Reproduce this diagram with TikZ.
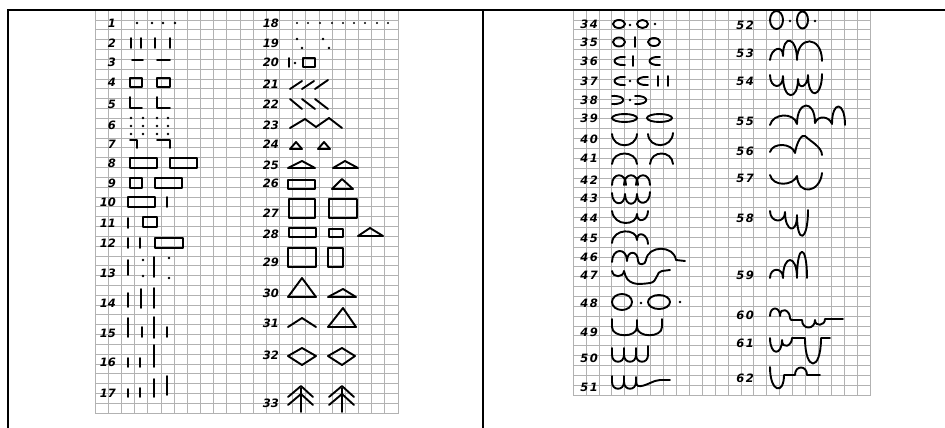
\documentclass[tikz,border=0pt]{standalone}
\usepackage{fontspec}
\newfontfamily\labf{DejaVu Sans}
\begin{document}
\begin{tikzpicture}[x=1pt,y=-1pt,
  grd/.style={gray!60, line width=0.5pt},
  gl/.style={line width=1.9pt, line cap=round, line join=round},
  lab/.style={font=\labf\bfseries\itshape\fontsize{11.5}{11.5}\selectfont, anchor=east, inner sep=0pt},
  frm/.style={line width=2pt}]
\useasboundingbox (0,0) rectangle (945,428);
% grids
\foreach \i in {0,...,23} \draw[grd] ({95+13.17*\i},10) -- ({95+13.17*\i},414);
\foreach \j in {0,...,41} \draw[grd] (95,{10+9.83*\j}) -- (398,{10+9.83*\j});
\foreach \i in {0,...,23} \draw[grd] ({573+12.91*\i},10) -- ({573+12.91*\i},396);
\foreach \j in {0,...,39} \draw[grd] (573,{10+9.87*\j}) -- (870,{10+9.87*\j});
% frame
\coordinate (tl) at (8,10); \coordinate (tr) at (945,10);
\coordinate (bl) at (8,428); \coordinate (tm) at (483,10); \coordinate (bm) at (483,428);
\draw[frm] (bl) -- (tl) -- (tr);
\draw[frm] (tm) -- (bm);
% labels column 1
\foreach \n/\y in {1/23,2/43,3/62,4/82,5/104,6/125,7/144,8/163,9/183,10/202,11/223,12/243,13/273,14/303,15/333,16/362,17/393}
  \node[lab] (n\n) at (116,\y) {\n};
% labels column 2
\foreach \n/\y in {18/23,19/43,20/62,21/84,22/104,23/125,24/144,25/165,26/183,27/213,28/234,29/262,30/293,31/323,32/355,33/403}
  \node[lab] (n\n) at (279,\y) {\n};
% labels column 3
\foreach \a/\b/\y in {3/4/24,3/5/42,3/6/61,3/7/81,3/8/100,3/9/118,4/0/139,4/1/158,4/2/180,4/3/198,4/4/218,4/5/238,4/6/257,4/7/275,4/8/303,4/9/332,5/0/358,5/1/387}
  \node[lab] (n\a\b) at (598,\y) {\a\kern1.5pt\b};
% labels column 4
\foreach \a/\b/\y in {5/2/25,5/3/53,5/4/81,5/5/121,5/6/151,5/7/178,5/8/218,5/9/275,6/0/315,6/1/343,6/2/378}
  \node[lab] (n\a\b) at (754,\y) {\a\kern1.5pt\b};
% ---- column 1 glyphs
\foreach \x in {137,152,163,175} \fill (\x,23) circle (1.3);
\foreach \x in {131,141,155,170} \draw[gl] (\x,38) -- (\x,48);
\draw[gl] (132,60) -- (143,60); \draw[gl] (157,60) -- (170,60);
\draw[gl] (130,78) rectangle (142,87); \draw[gl] (157,78) rectangle (170,87);
\draw[gl] (130,97) -- (130,108) -- (142,108); \draw[gl] (157,97) -- (157,108) -- (170,108);
\foreach \x in {131,143,157,168} \foreach \y in {118,126,134} \fill (\x,\y) circle (1.3);
\draw[gl] (130,140) -- (137,140) -- (137,148); \draw[gl] (157,140) -- (170,140) -- (170,148);
\draw[gl] (130,158) rectangle (157,168); \draw[gl] (170,158) rectangle (197,168);
\draw[gl] (130,178) rectangle (142,188); \draw[gl] (155,178) rectangle (182,188);
\draw[gl] (128,197) rectangle (155,207); \draw[gl] (167,197) -- (167,207);
\draw[gl] (128,218) -- (128,228); \draw[gl] (143,217) rectangle (157,227);
\draw[gl] (128,238) -- (128,248); \draw[gl] (140,238) -- (140,248); \draw[gl] (155,238) rectangle (183,248);
\draw[gl] (128,260) -- (128,275); \fill (143,260) circle (1.3); \fill (143,276) circle (1.3);
\draw[gl] (154,257) -- (154,277); \fill (169,258) circle (1.3); \fill (169,278) circle (1.3);
\draw[gl] (128,293) -- (128,307); \draw[gl] (141,289) -- (141,308); \draw[gl] (154,288) -- (154,308);
\draw[gl] (128,318) -- (128,337); \draw[gl] (142,327) -- (142,337); \draw[gl] (154,317) -- (154,338); \draw[gl] (167,327) -- (167,337);
\draw[gl] (128,358) -- (128,367); \draw[gl] (140,358) -- (140,367); \draw[gl] (154,345) -- (154,367);
\draw[gl] (128,389) -- (128,397); \draw[gl] (140,388) -- (140,397); \draw[gl] (154,379) -- (154,397); \draw[gl] (167,376) -- (167,395);
% ---- column 2 glyphs
\foreach \x in {297,308,320,332,343,354,365,377,388} \fill (\x,23) circle (1.2);
\foreach \p in {(297,39),(302,48),(323,39),(329,48)} \fill \p circle (1.3);
\draw[gl] (289,58) -- (289,67); \fill (295,63) circle (1.3); \draw[gl] (303,58) rectangle (315,67);
\draw[gl] (290,89) -- (302,81); \draw[gl] (302,89) -- (314,81); \draw[gl] (315,89) -- (328,80);
\draw[gl] (290,99) -- (302,109); \draw[gl] (302,99) -- (315,109); \draw[gl] (315,99) -- (328,109);
\draw[gl] (290,128) -- (305,119) -- (316,127) -- (329,118) -- (342,128);
\draw[gl] (290,149) -- (302,149) -- (296,142) -- cycle; \draw[gl] (318,149) -- (330,149) -- (324,142) -- cycle;
\draw[gl] (288,168) -- (315,168) -- (302,161) -- cycle; \draw[gl] (333,168) -- (358,168) -- (345,161) -- cycle;
\draw[gl] (288,180) rectangle (315,189); \draw[gl] (332,189) -- (353,189) -- (342,179) -- cycle;
\draw[gl] (289,199) rectangle (315,218); \draw[gl] (329,199) rectangle (357,218);
\draw[gl] (289,228) rectangle (316,237); \draw[gl] (329,229) rectangle (343,237); \draw[gl] (358,236) -- (383,236) -- (370,228) -- cycle;
\draw[gl] (288,248) rectangle (316,267); \draw[gl] (328,248) rectangle (343,267);
\draw[gl] (288,297) -- (316,297) -- (302,278) -- cycle; \draw[gl] (328,297) -- (356,297) -- (343,289) -- cycle;
\draw[gl] (288,327) -- (302,318) -- (316,327); \draw[gl] (328,327) -- (356,327) -- (343,308) -- cycle;
\draw[gl] (288,356) -- (302,348) -- (316,356) -- (302,365) -- cycle; \draw[gl] (328,356) -- (342,348) -- (355,356) -- (342,365) -- cycle;
\foreach \cx in {301,342} {
  \draw[gl] (\cx,388) -- (\cx,412);
  \draw[gl] ({\cx-13},397) -- (\cx,386) -- ({\cx+12},397);
  \draw[gl] ({\cx-13},405) -- (\cx,394) -- ({\cx+12},405);
}
% ---- column 3 glyphs
\draw[gl] (619,24) ellipse [x radius=6, y radius=4]; \fill (630,25) circle (1.3);
\draw[gl] (642.5,24) ellipse [x radius=5.5, y radius=4]; \fill (655,24) circle (1.3);
\draw[gl] (619,42) ellipse [x radius=6, y radius=4.5]; \draw[gl] (635,37) -- (635,47);
\draw[gl] (654,42) ellipse [x radius=6, y radius=4];
\draw[gl] (625,57) .. controls (611,56) and (611,66) .. (625,65); \draw[gl] (633,56) -- (633,66);
\draw[gl] (660,57) .. controls (646,56) and (646,66) .. (660,65);
\draw[gl] (625,77) .. controls (611,76) and (611,86) .. (625,85); \fill (630,81) circle (1.3);
\draw[gl] (648,77) .. controls (634,76) and (634,86) .. (648,85);
\draw[gl] (658,76) -- (658,86); \draw[gl] (668,76) -- (668,86);
\draw[gl] (612,96) .. controls (627,95) and (627,105) .. (612,104); \fill (630,100) circle (1.3);
\draw[gl] (635,96) .. controls (650,95) and (650,105) .. (635,104);
\draw[gl] (624.5,118) ellipse [x radius=12.5, y radius=4]; \draw[gl] (659.5,118) ellipse [x radius=12.5, y radius=4];
\draw[gl] (612,134) .. controls (613,149) and (636,149) .. (637,134);
\draw[gl] (648,134) .. controls (649,149) and (672,149) .. (673,133);
\draw[gl] (612,164) .. controls (613,150) and (636,150) .. (637,164);
\draw[gl] (650,164) .. controls (651,150) and (672,150) .. (673,164);
\foreach \x in {612,624,636} \draw[gl] (\x,185) .. controls +(0,-13) and +(0,-13) .. ({\x+14},185);
\draw[gl] (612,193) .. controls +(0,13) and +(0,13) .. (625,194) .. controls +(0,13) and +(0,13) .. (637,194) .. controls +(0,13) and +(0,13) .. (650,192);
\draw[gl] (612,211) .. controls +(2,16) and +(0,12) .. (637,214) .. controls +(0,10) and +(0,10) .. (648,211);
\draw[gl] (612,243) .. controls +(1,-15) and +(0,-12) .. (637,240) .. controls +(0,-10) and +(0,-10) .. (648,244);
\draw[gl] (612,262) .. controls +(0,-14) and +(0,-14) .. (627,261) .. controls +(0,-11) and +(0,-11) .. (638,261) .. controls +(0,5) and +(0,5) .. (646,260) .. controls +(2,-15) and +(-2,-15) .. (676,260) -- (685,261);
\draw[gl] (612,271) .. controls +(1,7) and +(-1,7) .. (624,271) .. controls +(3,14) and +(-14,2) .. (650,283) .. controls +(8,-1) and +(-6,0) .. (662,271) -- (670,270);
\draw[gl] (622,302) ellipse [x radius=10, y radius=8]; \fill (641,303) circle (1.4);
\draw[gl] (659,302) ellipse [x radius=11, y radius=7]; \fill (680,302) circle (1.4);
\draw[gl] (612,319) -- (612,327) .. controls +(0,11) and +(0,11) .. (637,327) -- (637,320);
\draw[gl] (637,327) .. controls +(0,11) and +(0,11) .. (662,327) -- (662,319);
\draw[gl] (612,348) -- (612,355) .. controls +(0,9) and +(0,9) .. (624,355) -- (624,348);
\draw[gl] (624,355) .. controls +(0,9) and +(0,9) .. (636,355) -- (636,348);
\draw[gl] (636,355) .. controls +(0,9) and +(0,9) .. (648,355) -- (648,346);
\draw[gl] (612,376) -- (612,382) .. controls +(0,9) and +(0,9) .. (624,382) -- (624,376);
\draw[gl] (624,382) .. controls +(0,9) and +(0,9) .. (636,382) -- (636,377);
\draw[gl] (636,382) .. controls +(0,9) and +(-6,2) .. (655,381) .. controls +(3,-1) and +(-3,0) .. (660,380) -- (670,380);
% ---- column 4 glyphs
\draw[gl] (776.5,20) ellipse [x radius=6.5, y radius=9]; \fill (790,21) circle (1.3);
\draw[gl] (802.5,20) ellipse [x radius=5.5, y radius=8.5]; \fill (815,21) circle (1.3);
\draw[gl] (770,60) .. controls +(1,-12) and +(0,-12) .. (783,56) .. controls +(0,-23) and +(0,-23) .. (797,60) .. controls +(0,-25) and +(0,-26) .. (822,61);
\draw[gl] (770,75) .. controls +(0,14) and +(0,14) .. (783,76) .. controls +(0,25) and +(0,22) .. (798,79) .. controls +(0,12) and +(0,12) .. (808,75) .. controls +(0,26) and +(0,24) .. (822,74);
\draw[gl] (770,125) .. controls +(3,-12) and +(-3,-12) .. (797,124) .. controls +(0,-24) and +(0,-24) .. (815,123) .. controls +(3,-8) and +(-3,-8) .. (832,124) .. controls +(0,-24) and +(0,-24) .. (845,125);
\draw[gl] (770,152) .. controls +(3,-10) and +(-3,-10) .. (795,153) .. controls +(2,-12) and +(-3,-2) .. (805,136) .. controls +(5,5) and +(0,-8) .. (822,155);
\draw[gl] (770,175) .. controls +(3,12) and +(-4,10) .. (797,176) .. controls +(1,20) and +(-2,20) .. (822,173);
\draw[gl] (770,211) .. controls +(0,12) and +(0,12) .. (785,212) .. controls +(0,20) and +(0,20) .. (797,215) .. controls +(0,30) and +(0,32) .. (808,210);
\draw[gl] (770,278) .. controls +(0,-11) and +(0,-11) .. (783,278) .. controls +(0,-24) and +(0,-24) .. (797,278) .. controls +(0,-35) and +(0,-35) .. (807,278);
\draw[gl] (770,316) .. controls +(0,-10) and +(0,-10) .. (780,316) .. controls +(0,-10) and +(0,-8) .. (790,318) .. controls +(0,2) and +(-2,0) .. (793,320) -- (802,320) .. controls +(0,10) and +(0,10) .. (815,320) .. controls +(0,7) and +(0,7) .. (825,319) -- (843,319);
\draw[gl] (770,338) .. controls +(0,18) and +(0,16) .. (782,340) .. controls +(0,10) and +(0,8) .. (792,338) -- (805,338) .. controls +(0,34) and +(0,34) .. (821,338) -- (830,338);
\draw[gl] (770,367) .. controls +(0,26) and +(0,20) .. (784,375) -- (795,375) .. controls +(0,-10) and +(0,-10) .. (807,375) -- (820,375);
\end{tikzpicture}
\end{document}
